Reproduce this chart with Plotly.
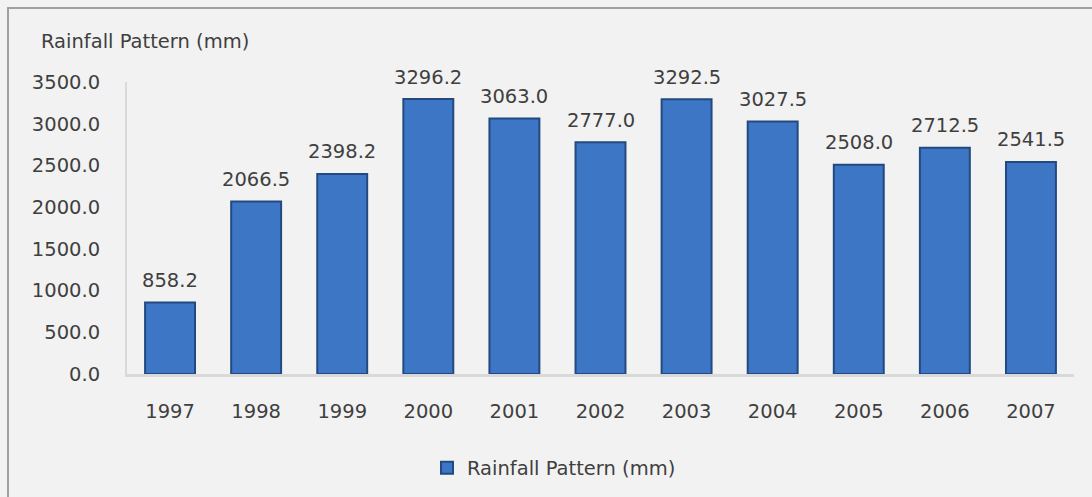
import plotly.graph_objects as go

years = ["1997", "1998", "1999", "2000", "2001", "2002", "2003", "2004", "2005", "2006", "2007"]
rainfall = [858.2, 2066.5, 2398.2, 3296.2, 3063.0, 2777.0, 3292.5, 3027.5, 2508.0, 2712.5, 2541.5]
tick_vals = [0, 500, 1000, 1500, 2000, 2500, 3000, 3500]
tick_text = [f"{v:.1f}" for v in tick_vals]

W, H = 1092, 497
L, R, T, B = 127, 1074, 82, 374
font_family = "DejaVu Sans"
FS = 19.5
txt_color = "#3f3f3f"

fig = go.Figure()
fig.add_trace(go.Bar(
    x=years, y=rainfall, name="Rainfall Pattern (mm)",
    marker=dict(color="#3c76c4", line=dict(color="#234a80", width=2)),
    width=0.58,
    cliponaxis=False,
))

pw, ph = R - L, B - T
def px(x): return (x - L) / pw
def py(y): return (B - y) / ph

# category index positions for value labels
value_labels = [dict(x=i, y=v, text=f"{v:.1f}", xref="x", yref="y",
                     xanchor="center", yanchor="middle", yshift=22, showarrow=False,
                     font=dict(size=FS, color=txt_color, family=font_family))
                for i, v in enumerate(rainfall)]

fig.update_layout(
    width=W, height=H,
    margin=dict(l=L, r=W - R, t=T, b=H - B, autoexpand=False),
    paper_bgcolor="#f2f2f2", plot_bgcolor="#f2f2f2",
    font=dict(family=font_family, size=FS, color=txt_color),
    showlegend=True,
    legend=dict(orientation="h", x=px(554), xanchor="center", y=py(468), yanchor="middle",
                font=dict(size=FS, color=txt_color), bgcolor="rgba(0,0,0,0)",
                itemwidth=30),
    xaxis=dict(type="category", range=[-0.5, len(years) - 0.5],
               showgrid=False, showline=True, linecolor="#d9d9d9", linewidth=3,
               ticks="", ticklabelstandoff=18, tickfont=dict(size=FS, color=txt_color),
               fixedrange=True),
    yaxis=dict(range=[0, 3500], tickvals=tick_vals, ticktext=tick_text,
               showgrid=False, showline=True, linecolor="#d9d9d9", linewidth=2,
               zeroline=False, ticks="", ticklabelstandoff=21,
               tickfont=dict(size=FS, color=txt_color), fixedrange=True),
    annotations=[dict(text="Rainfall Pattern (mm)", xref="paper", yref="paper",
                      x=px(39), y=py(42), xanchor="left", yanchor="middle",
                      showarrow=False, font=dict(size=FS, color=txt_color))] + value_labels,
    shapes=[dict(type="rect", xref="paper", yref="paper",
                 x0=px(8), x1=px(1200), y0=py(8), y1=py(600),
                 line=dict(color="#a0a0a0", width=2), fillcolor="rgba(0,0,0,0)", layer="below")],
)

fig.write_html("out.html")
